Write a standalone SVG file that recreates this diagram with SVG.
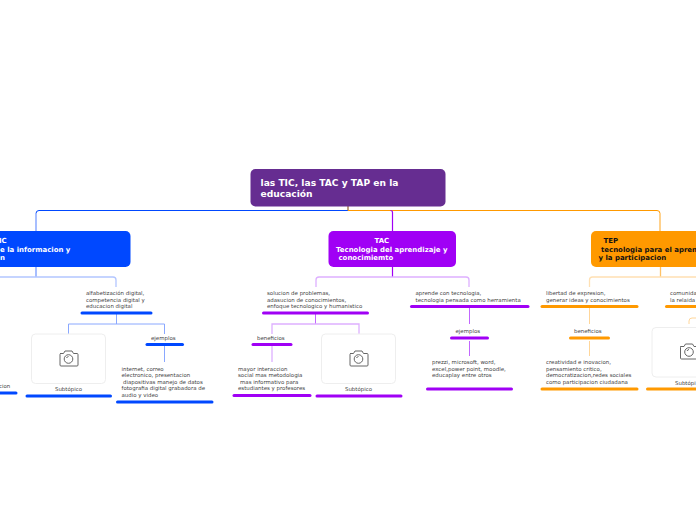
<svg xmlns="http://www.w3.org/2000/svg" width="696" height="520" viewBox="0 0 696 520">
<style>
text{font-family:"DejaVu Sans",Verdana,sans-serif}
.t{font-size:5.45px;fill:#444}
.h{font-size:6.96px;font-weight:bold;fill:#fff}
.k{font-size:6.96px;font-weight:bold;fill:#111}
.c{fill:none;stroke-linecap:butt}
.b{stroke-width:3px;stroke-linecap:round}
.ph{fill:#fff;stroke:#eee;stroke-width:1}
.cam{fill:none;stroke:#666;stroke-width:1}
</style>
<defs>
<g id="camera">
<path class="cam" d="M-8.500 -5.500h3.500l1.500 -2.500h7l1.500 2.500h3.500a1 1 0 0 1 1 1v10.500a1 1 0 0 1 -1 1h-16a1 1 0 0 1 -1 -1v-10.500a1 1 0 0 1 .5 -1z"/>
<circle class="cam" cx="0" cy="0" r="4.300"/>
<path class="cam" d="M-2 -1a2.500 2.500 0 0 1 2 -1.500"/>
</g>
</defs>
<rect width="696" height="520" fill="#fff"/>
<g id="connectors">
<path class="c" stroke="#8aa8ff" stroke-width="1.500" d="M36 213.500V231"/>
<path class="c" stroke="#ffc266" stroke-width="1.500" d="M660 213.500V231"/>
<path class="c" stroke="#0048ff" d="M348 206V210.500H39a3 3 0 0 0 -3 3"/>
<path class="c" stroke="#ff9900" d="M348 206V210.500H657a3 3 0 0 1 3 3"/>
<path class="c" stroke="#a000f5" stroke-width="1.200" d="M390.500 210.500a2 2 0 0 1 2 2V231"/>
<path class="c" stroke="#8aa8ff" stroke-width="1.500" d="M36 267V277"/>
<path class="c" stroke="#b3c6ff" stroke-width="1.300" d="M0 277H113a3 3 0 0 1 3 3V287"/>
<path class="c" stroke="#8aa8ff" stroke-width="1" d="M116.500 314V324M68.500 334V324H164.500V334M164.500 346V362"/>
<path class="c" stroke="#a000f5" stroke-width="1.200" d="M392.500 267V277"/>
<path class="c" stroke="#deb0ff" stroke-width="1.300" d="M316 287V280a3 3 0 0 1 3 -3H466a3 3 0 0 1 3 3V287"/>
<path class="c" stroke="#c266ff" stroke-width="1" d="M315.500 314V324"/>
<path class="c" stroke="#deb0ff" stroke-width="1.300" d="M272 362V346M272 334V324H359V334"/>
<path class="c" stroke="#c266ff" stroke-width="1" d="M469.500 308V324M469.500 341V356"/>
<path class="c" stroke="#ffc266" stroke-width="1.300" d="M660.500 267V277"/>
<path class="c" stroke="#ffe0b3" stroke-width="1.300" d="M589.500 287V280a3 3 0 0 1 3 -3H696"/>
<path class="c" stroke="#ffd699" stroke-width="1" d="M589.500 308V324M589.500 341V356"/>
<path class="c" stroke="#ffd699" stroke-width="1" d="M689 324V321a3 3 0 0 1 3 -3H696"/>
</g>
<g id="root">
<rect x="250.500" y="169" width="195" height="37.500" rx="5" fill="#662d91"/>
<text font-size="9.150" font-weight="bold" fill="#fff" x="260.500" y="186">las TIC, las TAC y TAP en la</text>
<text font-size="9.150" font-weight="bold" fill="#fff" x="260.500" y="197">educación</text>
</g>
<g id="tic">
<rect x="-20" y="231" width="150.500" height="36" rx="5" fill="#0048ff"/>
<text class="h" x="-1" y="243">IC</text>
<text class="h" x="0" y="252">e la informacion y</text>
<text class="h" x="0" y="260">n</text>
</g>
<g id="tac">
<rect x="328.500" y="231" width="127.500" height="36" rx="5" fill="#a000f5"/>
<text class="h" x="374.500" y="243">TAC</text>
<text class="h" x="336" y="252">Tecnologia del aprendizaje y</text>
<text class="h" x="338.500" y="260">conocimiemto</text>
</g>
<g id="tep">
<rect x="591" y="231" width="130" height="36" rx="5" fill="#ff9900"/>
<text class="k" x="603.500" y="243">TEP</text>
<text class="k" x="601" y="252">tecnologia para el apren</text>
<text class="k" x="598.500" y="260">y la participacion</text>
</g>
<g id="n1">
<text class="t" x="86" y="295">alfabetización digital,</text>
<text class="t" x="86" y="301.500">competencia digital y</text>
<text class="t" x="86" y="308">educacion digital</text>
<line class="b" x1="82" y1="313" x2="151" y2="313" stroke="#0048ff"/>
</g>
<g id="n2">
<text class="t" x="-1" y="388">cion</text>
<line class="b" x1="-10" y1="393" x2="16" y2="393" stroke="#0048ff"/>
</g>
<g id="n3">
<rect class="ph" x="31.500" y="334" width="74" height="49.500" rx="4"/>
<use href="#camera" x="68.500" y="359"/>
<text class="t" x="68.500" y="391" text-anchor="middle">Subtópico</text>
<line class="b" x1="27" y1="396" x2="110.500" y2="396" stroke="#0048ff"/>
</g>
<g id="n4">
<text class="t" x="151" y="339.500">ejemplos</text>
<line class="b" x1="147" y1="344.500" x2="182.500" y2="344.500" stroke="#0048ff"/>
</g>
<g id="n5">
<text class="t" x="121.500" y="371">internet, correo</text>
<text class="t" x="121.500" y="377">electronico, presentacion</text>
<text class="t" x="123" y="383.500">diapositivas manejo de datos</text>
<text class="t" x="121.500" y="390">fotografia digital grabadora de</text>
<text class="t" x="121.500" y="396.500">audio y video</text>
<line class="b" x1="117.500" y1="402" x2="212" y2="402" stroke="#0048ff"/>
</g>
<g id="n6">
<text class="t" x="267" y="295">solucion de problemas,</text>
<text class="t" x="267" y="301.500">adasucion de conocimientos,</text>
<text class="t" x="267" y="308">enfoque tecnologico y humanistico</text>
<line class="b" x1="263.500" y1="313" x2="367.500" y2="313" stroke="#a000f5"/>
</g>
<g id="n7">
<text class="t" x="257" y="339.500">beneficios</text>
<line class="b" x1="253" y1="344.500" x2="291" y2="344.500" stroke="#a000f5"/>
</g>
<g id="n8">
<text class="t" x="238" y="371">mayor interaccion</text>
<text class="t" x="238" y="377">social mas metodologia</text>
<text class="t" x="240" y="383.500">mas informativo para</text>
<text class="t" x="238" y="390">estudiantes y profesores</text>
<line class="b" x1="234" y1="395.500" x2="310" y2="395.500" stroke="#a000f5"/>
</g>
<g id="n9">
<rect class="ph" x="321.500" y="334" width="74" height="49.500" rx="4"/>
<use href="#camera" x="358.500" y="359"/>
<text class="t" x="358.500" y="391" text-anchor="middle">Subtópico</text>
<line class="b" x1="317" y1="396" x2="401" y2="396" stroke="#a000f5"/>
</g>
<g id="n10">
<text class="t" x="415.500" y="295">aprende con tecnologia,</text>
<text class="t" x="415.500" y="301.500">tecnologia pensada como herramienta</text>
<line class="b" x1="411.500" y1="306.500" x2="528" y2="306.500" stroke="#a000f5"/>
</g>
<g id="n11">
<text class="t" x="455.500" y="333">ejemplos</text>
<line class="b" x1="451.500" y1="338" x2="487.500" y2="338" stroke="#a000f5"/>
</g>
<g id="n12">
<text class="t" x="432" y="364">prezzi, microsoft, word,</text>
<text class="t" x="432" y="371">excel,power point, moodle,</text>
<text class="t" x="432" y="377">educaplay entre otros</text>
<line class="b" x1="427.500" y1="389" x2="511.500" y2="389" stroke="#a000f5"/>
</g>
<g id="n13">
<text class="t" x="546" y="295">libertad de expresion,</text>
<text class="t" x="546" y="301.500">generar ideas y conocimientos</text>
<line class="b" x1="542" y1="306.500" x2="637" y2="306.500" stroke="#ff9900"/>
</g>
<g id="n14">
<text class="t" x="574" y="333">beneficios</text>
<line class="b" x1="570.500" y1="338" x2="608.500" y2="338" stroke="#ff9900"/>
</g>
<g id="n15">
<text class="t" x="546" y="364">creatividad e inovacion,</text>
<text class="t" x="546" y="370.500">pensamiento  critico,</text>
<text class="t" x="546" y="377">democratizacion,redes sociales</text>
<text class="t" x="546" y="383.500">como participacion ciudadana</text>
<line class="b" x1="542" y1="389" x2="637" y2="389" stroke="#ff9900"/>
</g>
<g id="n16">
<text class="t" x="670" y="295">comunida</text>
<text class="t" x="670" y="301.500">la relaida</text>
<line class="b" x1="666.500" y1="306.500" x2="720" y2="306.500" stroke="#ff9900"/>
</g>
<g id="n17">
<rect class="ph" x="652" y="327.500" width="74" height="49.500" rx="4"/>
<use href="#camera" x="689" y="352"/>
<text class="t" x="675" y="384.500">Subtópi</text>
<line class="b" x1="647.500" y1="389" x2="731" y2="389" stroke="#ff9900"/>
</g>
</svg>
